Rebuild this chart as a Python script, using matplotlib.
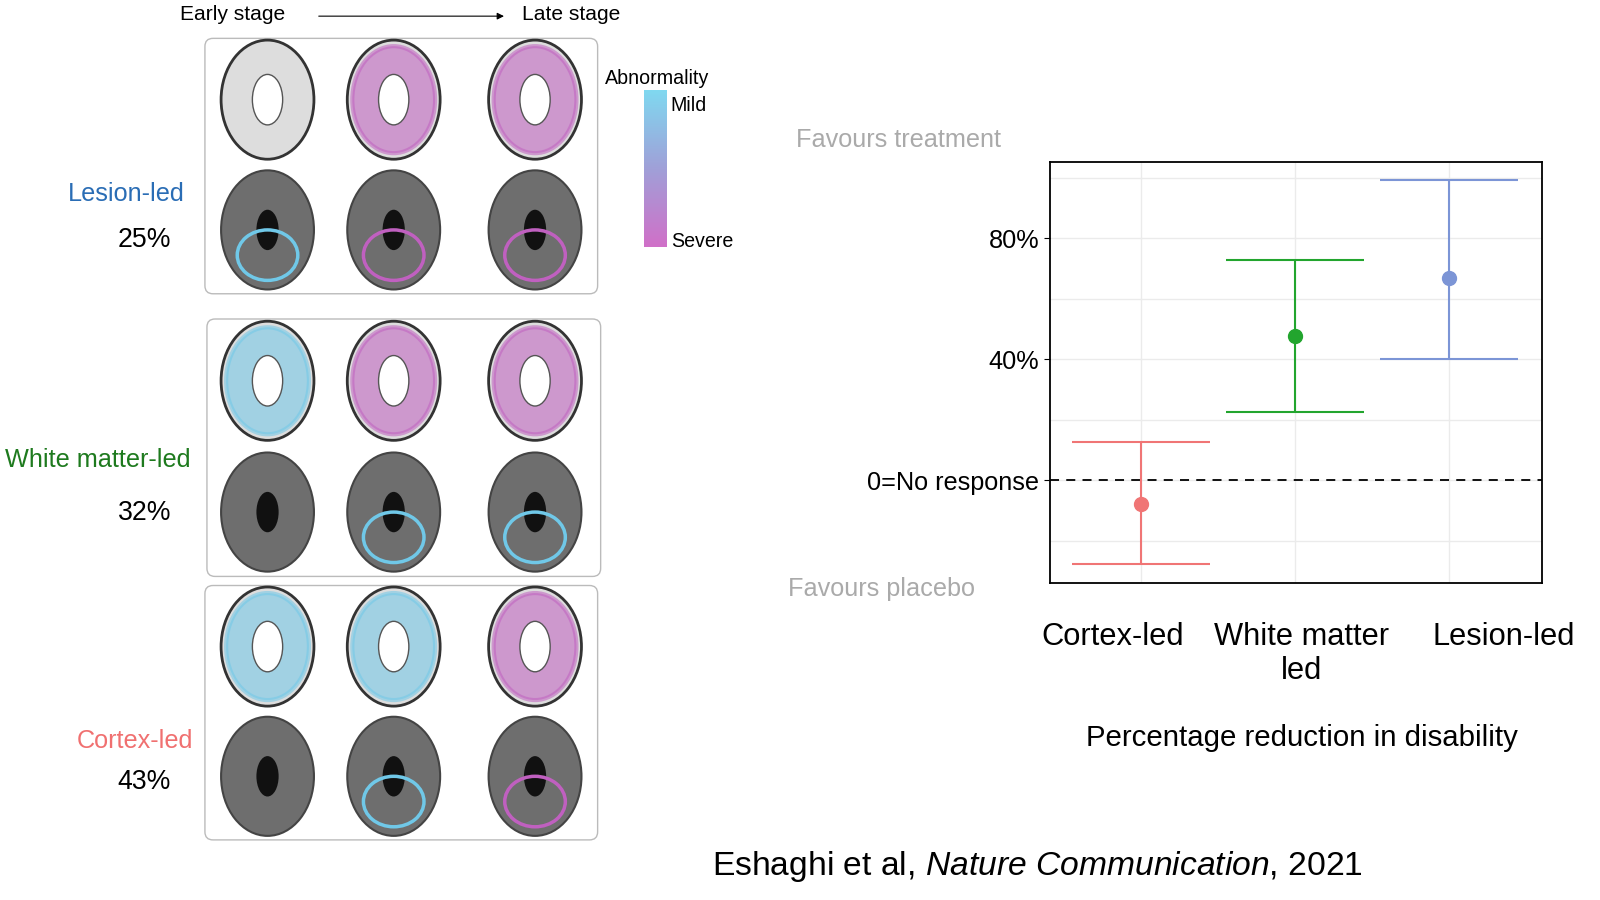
import matplotlib
matplotlib.use("Agg")
import matplotlib.pyplot as plt
import numpy as np
from matplotlib.patches import FancyBboxPatch, Ellipse
from matplotlib.colors import LinearSegmentedColormap

plt.rcParams['font.family'] = ['Liberation Sans', 'DejaVu Sans']
plt.rcParams['mathtext.fontset'] = 'custom'
plt.rcParams['mathtext.it'] = 'Liberation Sans:italic'
plt.rcParams['mathtext.rm'] = 'Liberation Sans'

categories = ["Cortex-led", "White matter\nled", "Lesion-led"]
estimates = [-7.7, 47.7, 66.7]
ci_low = [-27.7, 22.7, 40.0]
ci_high = [12.7, 72.7, 99.3]
colors = ["#F07575", "#22A52E", "#7C95D6"]
subtypes = ["Lesion-led", "White matter-led", "Cortex-led"]
subtype_pct = ["25%", "32%", "43%"]
subtype_colors = ["#2A6DB5", "#1E7A1E", "#F07070"]

S = 1.0095
W, H = 1600 / S, 900 / S
fig = plt.figure(figsize=(16, 9), dpi=100)
bg = fig.add_axes([0, 0, 1, 1])
bg.axis("off")
def fs(v):
    return v * S

bg.text(230, 14, "Early stage", fontsize=fs(15), ha="center", va="center")
bg.annotate("", xy=(502, 16), xytext=(313, 16),
            arrowprops=dict(arrowstyle="-|>", color="black", lw=0.8))
bg.text(566, 14, "Late stage", fontsize=fs(15), ha="center", va="center")

boxes = [(203, 38, 389, 253), (205, 316, 390, 255), (203, 580, 389, 252)]
tints = [["none", "#C060C0", "#C060C0"],
         ["#70C8E8", "#C060C0", "#C060C0"],
         ["#70C8E8", "#70C8E8", "#C060C0"]]
tints2 = [["#70C8E8", "#C060C0", "#C060C0"],
          ["none", "#70C8E8", "#70C8E8"],
          ["none", "#70C8E8", "#C060C0"]]
cols = [265, 390, 530]
for bi, (x, y, w, h) in enumerate(boxes):
    bg.add_patch(FancyBboxPatch((x, y), w, h, boxstyle="round,pad=0,rounding_size=8",
                                fc="white", ec="#BBBBBB", lw=1))
    for ci, cx in enumerate(cols):
        cy1 = y + h * 0.24
        cy2 = y + h * 0.75
        t = tints[bi][ci]
        bg.add_patch(Ellipse((cx, cy1), 92, 118, fc="#DDDDDD", ec="#333333", lw=2))
        if t != "none":
            bg.add_patch(Ellipse((cx, cy1), 82, 106, fc=t, alpha=0.55, ec=t, lw=3))
        bg.add_patch(Ellipse((cx, cy1), 30, 50, fc="white", ec="#555555", lw=1))
        bg.add_patch(Ellipse((cx, cy2), 92, 118, fc="#6E6E6E", ec="#444444", lw=1.5))
        bg.add_patch(Ellipse((cx, cy2), 22, 40, fc="#111111", ec="none"))
        t2 = tints2[bi][ci]
        if t2 != "none":
            bg.add_patch(Ellipse((cx, cy2 + 25), 60, 50, fc="none", ec=t2, lw=2.5))

label_y = [(192, 238), (456, 508), (734, 775)]
label_x = [125, 97, 134]
for i in range(3):
    bg.text(label_x[i], label_y[i][0], subtypes[i], fontsize=fs(18), color=subtype_colors[i],
            ha="center", va="center")
    bg.text(143, label_y[i][1], subtype_pct[i], fontsize=fs(19), ha="center", va="center")

grad = np.linspace(0, 1, 100).reshape(-1, 1)
cmap = LinearSegmentedColormap.from_list("ab", ["#80D8F0", "#A0A0D8", "#D070C8"])
bg.imshow(grad, cmap=cmap, extent=(638, 660, 245, 90), aspect="auto", zorder=1)
bg.text(651, 78, "Abnormality", fontsize=fs(14), ha="center", va="center")
bg.text(664, 105, "Mild", fontsize=fs(14), ha="left", va="center")
bg.text(665, 239, "Severe", fontsize=fs(14), ha="left", va="center")

bg.text(890, 139, "Favours treatment", fontsize=fs(18), color="#AAAAAA", ha="center", va="center")
bg.text(873, 583, "Favours placebo", fontsize=fs(18), color="#AAAAAA", ha="center", va="center")
bg.text(1290, 731, "Percentage reduction in disability", fontsize=fs(21), ha="center", va="center")
bg.text(1028, 858, "Eshaghi et al, $\\it{Nature\\ Communication}$, 2021", fontsize=fs(24),
        ha="center", va="center")

ax = fig.add_axes([1040 / W, 1 - 578 / H, 487 / W, 418 / H])
xs = np.arange(1, 4)
ax.set_xlim(0.41, 3.6)
ax.set_ylim(-34, 105.3)
for v in [-20, 0, 20, 40, 60, 80, 100]:
    ax.axhline(v, color="#EBEBEB", lw=1, zorder=0)
for x in xs:
    ax.axvline(x, color="#EBEBEB", lw=1, zorder=0)
ax.axhline(0, color="black", lw=1.3, ls=(0, (5, 4)), zorder=1)
for x, e, lo, hi, c in zip(xs, estimates, ci_low, ci_high, colors):
    ax.errorbar(x, e, yerr=[[e - lo], [hi - e]], fmt="o", color=c, ms=10,
                capsize=50, elinewidth=1.5, capthick=1.5, zorder=3)
ax.set_yticks([0, 40, 80])
ax.set_yticklabels(["0=No response", "40%", "80%"], fontsize=fs(18))
ax.tick_params(axis="y", length=4)
ax.set_xticks([])
for s in ax.spines.values():
    s.set_linewidth(1.3)
cat_x = [1102, 1289, 1490]
for cx, lab in zip(cat_x, categories):
    bg.text(cx, 616, lab, fontsize=fs(22), ha="center", va="top", linespacing=1.2)
bg.set_xlim(0, W); bg.set_ylim(H, 0)
fig.savefig("out.png", dpi=100)
